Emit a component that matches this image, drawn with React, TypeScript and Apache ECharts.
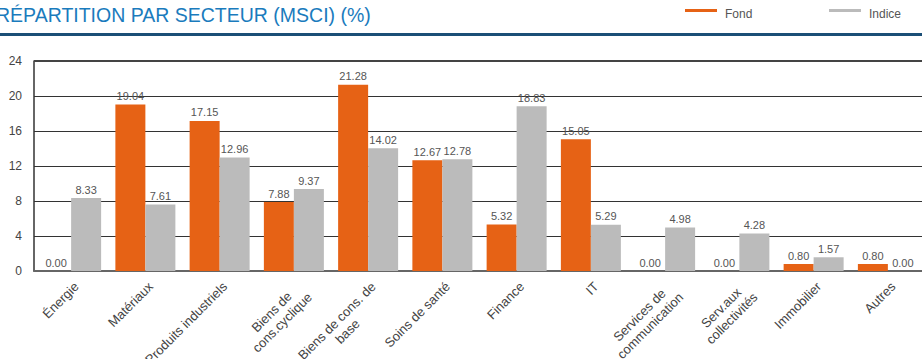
import React, { useEffect, useRef } from "react";
import * as echarts from "echarts";

const categories = [
  "Énergie",
  "Matériaux",
  "Produits industriels",
  "Biens de\ncons.cyclique",
  "Biens de cons. de\nbase",
  "Soins de santé",
  "Finance",
  "IT",
  "Services de\ncommunication",
  "Serv.aux\ncollectivités",
  "Immobilier",
  "Autres",
];
const fondValues = [0.0, 19.04, 17.15, 7.88, 21.28, 12.67, 5.32, 15.05, 0.0, 0.0, 0.8, 0.8];
const indiceValues = [8.33, 7.61, 12.96, 9.37, 14.02, 12.78, 18.83, 5.29, 4.98, 4.28, 1.57, 0.0];
const yTicks = { min: 0, max: 24, interval: 4 };

const FONT = "Liberation Sans, Arial, sans-serif";

export default function App() {
  const ref = useRef<HTMLDivElement>(null);
  useEffect(() => {
    if (!ref.current) return;
    const chart = echarts.init(ref.current, undefined, { renderer: "svg" });
    const label = {
      show: true,
      position: "top" as const,
      distance: 3,
      fontSize: 11,
      color: "#555",
      fontFamily: FONT,
      formatter: (p: any) => Number(p.value).toFixed(2),
    };
    const legendText = {
      color: "#555",
      fontSize: 12,
      fontFamily: FONT,
      rich: { t: { padding: [7, 0, 0, 3], fontSize: 12, color: "#555", fontFamily: FONT } },
    };
    chart.setOption({
      animation: false,
      textStyle: { fontFamily: FONT },
      title: {
        text: "RÉPARTITION PAR SECTEUR (MSCI) (%)",
        left: -4,
        top: 5,
        padding: 0,
        textStyle: { color: "#1a7bbd", fontSize: 19.5, fontWeight: "normal", fontFamily: FONT },
      },
      legend: [
        {
          left: 680,
          top: 3,
          itemWidth: 32,
          itemHeight: 3,
          icon: "rect",
          data: ["Fond"],
          formatter: (n: string) => `{t|${n}}`,
          textStyle: legendText,
        },
        {
          left: 824,
          top: 3,
          itemWidth: 32,
          itemHeight: 3,
          icon: "rect",
          data: ["Indice"],
          formatter: (n: string) => `{t|${n}}`,
          textStyle: legendText,
        },
      ],
      graphic: [
        {
          type: "rect",
          shape: { x: 0, y: 33, width: 922, height: 3 },
          style: { fill: "#1b4f77" },
          silent: true,
        },
      ],
      grid: {
        left: 34,
        right: -3,
        top: 61,
        bottom: 88,
        containLabel: false,
        outerBoundsMode: "none",
      },
      xAxis: {
        type: "category",
        data: categories,
        axisTick: { show: false },
        axisLine: { lineStyle: { color: "#666", width: 2 } },
        axisLabel: {
          interval: 0,
          rotate: 45,
          fontSize: 13,
          color: "#444",
          margin: 8,
          verticalAlign: "top",
          lineHeight: 15,
          formatter: (v: string) =>
            v
              .split("\n")
              .map((l) => `{c|${l}}`)
              .join("\n"),
          rich: { c: { align: "center", fontSize: 13, color: "#444", lineHeight: 15, fontFamily: FONT } },
        },
      },
      yAxis: {
        type: "value",
        min: yTicks.min,
        max: yTicks.max,
        interval: yTicks.interval,
        axisLine: { show: true, lineStyle: { color: "#333", width: 1.5 } },
        axisTick: { show: false },
        axisLabel: { fontSize: 12, color: "#444", margin: 12 },
        splitLine: { lineStyle: { color: "#333", width: 1 } },
      },
      series: [
        {
          name: "Fond",
          type: "bar",
          data: fondValues,
          barWidth: 30,
          barGap: "0%",
          itemStyle: { color: "#e66215" },
          label,
          markLine: {
            silent: true,
            symbol: "none",
            label: { show: false },
            lineStyle: { color: "#444", width: 2, type: "solid" },
            data: [{ yAxis: yTicks.max }],
          },
        },
        {
          name: "Indice",
          type: "bar",
          data: indiceValues,
          barWidth: 30,
          barGap: "0%",
          itemStyle: { color: "#bbbbbb" },
          label,
        },
      ],
    });
    return () => chart.dispose();
  }, []);
  return <div ref={ref} style={{ width: 922, height: 359, position: "absolute", left: 0, top: 0 }} />;
}
